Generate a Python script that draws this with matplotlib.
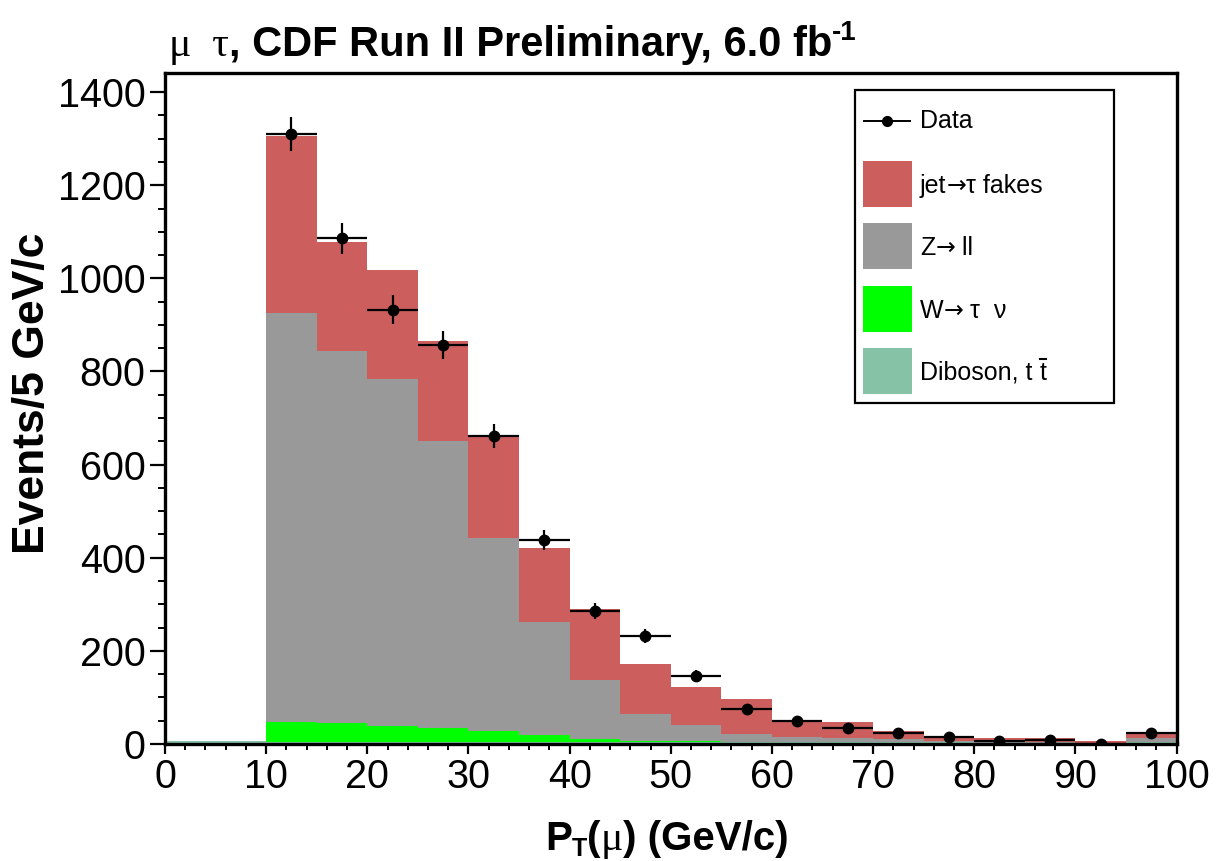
import numpy as np
import matplotlib
matplotlib.use("Agg")
import matplotlib.pyplot as plt
from matplotlib.patches import Rectangle
from matplotlib.lines import Line2D
from matplotlib.ticker import MultipleLocator

# ---------------- data ----------------
bin_edges = list(range(0, 105, 5))
diboson = [6, 6, 5, 5, 5, 5, 5, 5, 5, 4, 4, 4, 4, 4, 4, 4, 3, 3, 3, 4]
w_taunu = [0, 0, 43, 41, 34, 29, 22, 14, 6, 3, 2, 1, 0, 0, 0, 0, 0, 0, 0, 0]
z_ll = [0, 0, 878, 799, 745, 616, 415, 243, 126, 58, 34, 17, 12, 9, 6, 3, 2, 2, 0, 8]
jet_fakes = [0, 0, 380, 233, 234, 216, 217, 158, 152, 107, 83, 75, 35, 34, 18, 11, 7, 7, 4, 12]
data_centers = [12.5, 17.5, 22.5, 27.5, 32.5, 37.5, 42.5, 47.5, 52.5,
                57.5, 62.5, 67.5, 72.5, 77.5, 82.5, 87.5, 92.5, 97.5]
data_counts = [1310, 1086, 933, 857, 662, 438, 286, 232, 146,
               75, 49, 34, 24, 14, 7, 9, 1, 24]
x_ticks = [0, 10, 20, 30, 40, 50, 60, 70, 80, 90, 100]
y_ticks = [0, 200, 400, 600, 800, 1000, 1200, 1400]

c_fakes = "#cd5e5e"
c_z = "#999999"
c_w = "#00ff00"
c_db = "#86c2a6"

W, H = 1217, 861
fig = plt.figure(figsize=(W / 100, H / 100), dpi=100)
L, R, B, T = 165, 1176.5, 744, 73
ax = fig.add_axes([L / W, 1 - B / H, (R - L) / W, (B - T) / H])

edges = np.array(bin_edges, dtype=float)
lefts = edges[:-1]
widths = np.diff(edges)
bottom = np.zeros(len(lefts))
for vals, col in [(diboson, c_db), (w_taunu, c_w), (z_ll, c_z), (jet_fakes, c_fakes)]:
    v = np.array(vals, dtype=float)
    ax.bar(lefts, v, width=widths, bottom=bottom, align="edge", color=col,
           linewidth=0, zorder=1)
    bottom = bottom + v

dc = np.array(data_centers)
dn = np.array(data_counts, dtype=float)
ax.errorbar(dc, dn, xerr=2.5, yerr=np.sqrt(dn), fmt="o", color="black",
            ms=7.5, elinewidth=1.6, capsize=0, zorder=5)

ax.set_xlim(0, 100)
ax.set_ylim(0, 1441)
ax.set_xticks(x_ticks)
ax.set_yticks(y_ticks)
ax.xaxis.set_minor_locator(MultipleLocator(2))
ax.yaxis.set_minor_locator(MultipleLocator(50))
for s in ax.spines.values():
    s.set_linewidth(2.4)
ax.tick_params(which="major", direction="out", length=11, width=1.6,
               labelsize=28.5, pad=3)
ax.tick_params(which="minor", direction="out", length=5, width=1.4)
ax.tick_params(axis="x", which="major", length=7)
ax.tick_params(axis="x", which="minor", length=4)
for lab in ax.get_xticklabels() + ax.get_yticklabels():
    lab.set_fontfamily("Liberation Sans")

# y label
fig.text(33 / W, 1 - 393 / H, "Events/5 GeV/c", rotation=90, ha="center",
         va="center", fontsize=32, fontweight="bold", family="Liberation Sans")

# sequence text helper (pixel coordinates, y from top, baseline)
fig.canvas.draw()
renderer = fig.canvas.get_renderer()


def seq(x0, ybase, pieces, va="baseline", z=11):
    x = x0
    for s, kw, dy in pieces:
        t = fig.text(x / W, 1 - (ybase - dy) / H, s, ha="left", va=va, zorder=z, **kw)
        bb = t.get_window_extent(renderer)
        x = bb.x1


serif = dict(family="Liberation Serif", fontsize=30)
bold = dict(family="Liberation Sans", fontsize=30, fontweight="bold")
bold_small = dict(family="Liberation Sans", fontsize=20, fontweight="bold")

seq(169, 56, [("μ  τ", serif, 0), (", CDF Run II Preliminary, 6.0 fb", bold, 0),
              ("-1", bold_small, 16)])

xl_bold = dict(family="Liberation Sans", fontsize=29, fontweight="bold")
xl_sub = dict(family="Liberation Sans", fontsize=18, fontweight="bold")
xl_serif = dict(family="Liberation Serif", fontsize=30)
seq(545, 850, [("P", xl_bold, 0), ("T", xl_sub, -6), ("(", xl_bold, 0),
               ("μ", xl_serif, 0), (") (GeV/c)", xl_bold, 0)])

# legend (drawn in figure pixel space)
def fx(px):
    return px / W


def fy(py):
    return 1 - py / H


box = Rectangle((fx(855), fy(403)), fx(1114) - fx(855), fy(90) - fy(403),
                transform=fig.transFigure, facecolor="white", edgecolor="black",
                linewidth=1.6, zorder=10)
fig.add_artist(box)
fig.add_artist(Line2D([fx(864), fx(910)], [fy(121), fy(121)], color="black",
                      linewidth=1.4, transform=fig.transFigure, zorder=11))
fig.add_artist(Line2D([fx(887)], [fy(121)], marker="o", ms=7, color="black",
                      transform=fig.transFigure, zorder=11))
lf = dict(family="Liberation Sans", fontsize=18)
la = dict(family="DejaVu Sans", fontsize=17)
seq(920, 128, [("Data", lf, 0)])
entries = [
    ([("jet", lf, 0), ("→", la, 0), ("τ fakes", lf, 0)], c_fakes, 184),
    ([("Z", lf, 0), ("→", la, 0), (" ll", lf, 0)], c_z, 246),
    ([("W", lf, 0), ("→", la, 0), (" τ  ν", lf, 0)], c_w, 309),
    ([("Diboson, t ", lf, 0), ("t", lf, 0), ("", lf, 0)], c_db, 371),
]
for pieces, col, yc in entries:
    r = Rectangle((fx(863), fy(yc + 23)), fx(912) - fx(863), fy(yc - 23) - fy(yc + 23),
                  transform=fig.transFigure, facecolor=col, edgecolor="none", zorder=11)
    fig.add_artist(r)
    seq(920, yc + 9, pieces)

# overbar on the anti-top in the legend
tb = [t for t in fig.texts if t.get_text() == "t"][-1].get_window_extent(renderer)
fig.add_artist(Line2D([tb.x0 / W + 0.0005, tb.x1 / W - 0.0005],
                      [fy(359), fy(359)], color="black", linewidth=1.5,
                      transform=fig.transFigure, zorder=12))

fig.savefig("out.png", dpi=100)
